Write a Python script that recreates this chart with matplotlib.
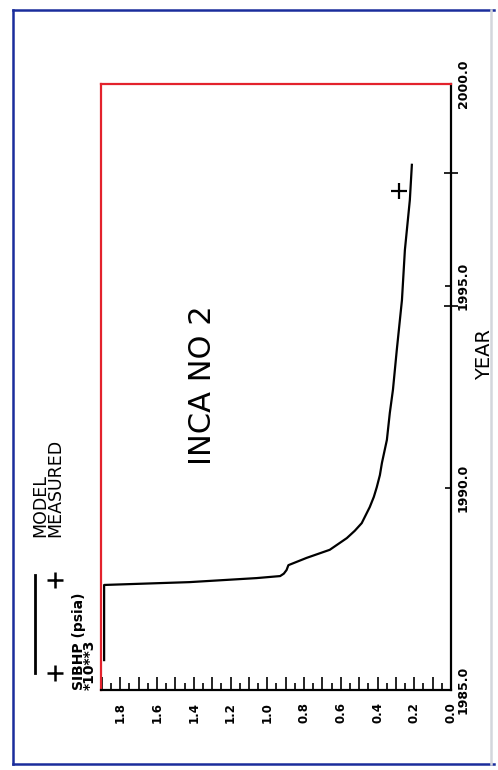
import matplotlib

matplotlib.use("Agg")
import matplotlib.pyplot as plt
from matplotlib.lines import Line2D

plt.rcParams["font.family"] = ["DejaVu Sans"]

# モデル曲線 (年, SIBHP x10^3 psia) 図から読み取り
model_year = [1985.74, 1987.60, 1987.67, 1987.77, 1987.82, 1987.88, 1987.97, 1988.09,
              1988.27, 1988.47, 1988.76, 1988.94, 1989.13, 1989.53, 1989.78, 1990.02,
              1990.32, 1990.62, 1991.19, 1991.86, 1992.43, 1993.42, 1994.65, 1995.89,
              1997.13, 1998.00]
model_sibhp = [1.888, 1.888, 1.424, 1.058, 0.930, 0.910, 0.895, 0.885,
               0.786, 0.660, 0.567, 0.524, 0.486, 0.442, 0.420, 0.404,
               0.387, 0.376, 0.349, 0.333, 0.316, 0.295, 0.267, 0.251,
               0.224, 0.213]

# 実測値
measured_year = [1997.35]
measured_sibhp = [0.284]

# 軸の目盛り
pressure_ticks = [0.0, 0.2, 0.4, 0.6, 0.8, 1.0, 1.2, 1.4, 1.6, 1.8]
pressure_labels = ["0.0", "0.2", "0.4", "0.6", "0.8", "1.0", "1.2", "1.4", "1.6", "1.8"]
pressure_odd_ticks = [0.1, 0.3, 0.5, 0.7, 0.9, 1.1, 1.3, 1.5, 1.7, 1.9]
year_ticks = [1985.0, 1990.0, 1995.0, 2000.0]
year_labels = ["1985.0", "1990.0", "1995.0", "2000.0"]
year_marks = [1994.5, 1997.8]

W, H = 498, 770


def px(x, y):
    """ピクセル座標 -> figure 座標"""
    return x / W, 1 - y / H


fig = plt.figure(figsize=(W / 100, H / 100), dpi=100)
fig.patch.set_facecolor("white")

# 外枠 (青)
blue = "#1a2d9c"
for xs, ys, c in [
    ([13, 13], [10, 764], blue),
    ([13, 494], [10, 10], blue),
    ([13, 494], [764, 764], blue),
    ([491, 491], [10, 764], "#d4d6dc"),
]:
    x0, y0 = px(xs[0], ys[0])
    x1, y1 = px(xs[1], ys[1])
    fig.add_artist(Line2D([x0, x1], [y0, y1], color=c, lw=1.8, transform=fig.transFigure))

# 軸 (横: SIBHP 反転, 縦: 年)
left, top = px(101, 84)
right, bottom = px(451, 690)
ax = fig.add_axes([left, bottom, right - left, top - bottom])
ax.set_xlim(1.905, 0.0)
ax.set_ylim(1985.0, 2000.0)

ax.plot(model_sibhp, model_year, color="black", lw=1.6, solid_joinstyle="round")
ax.plot(measured_sibhp, measured_year, linestyle="none", marker="+", color="black",
        markersize=11, markeredgewidth=1.6)

red = "#e3222c"
ax.spines["top"].set_color(red)
ax.spines["left"].set_color(red)
for s in ax.spines.values():
    s.set_linewidth(1.6)

# 横軸の目盛り
major = sorted(pressure_ticks + pressure_odd_ticks)
lab = dict(zip(pressure_ticks, pressure_labels))
ax.set_xticks(major, [lab.get(t, "") for t in major])
ax.set_xticks([t + 0.05 for t in major if t + 0.05 < 1.9], minor=True)
ax.tick_params(axis="x", which="major", direction="in", length=9.4, width=1.2, pad=8.5,
               labelsize=8.5, labelrotation=90)
ax.tick_params(axis="x", which="minor", direction="in", length=5, width=1.2)
for t in ax.get_xticklabels():
    t.set_fontweight("bold")

# 縦軸の目盛り (右側)
ax.yaxis.tick_right()
ax.set_yticks(year_ticks, year_labels)
ax.set_yticks(year_marks, minor=True)
ax.tick_params(axis="y", which="major", direction="in", length=4.3, width=1.2, pad=4.3,
               labelsize=9, labelrotation=90)
ax.tick_params(axis="y", which="minor", direction="inout", length=10, width=1.2)
for t in ax.get_yticklabels():
    t.set_fontweight("bold")
    t.set_verticalalignment("center")

# テキスト
fig.text(*px(202, 385), "INCA NO 2", rotation=90, ha="center", va="center", fontsize=22)
fig.text(*px(485, 355), "YEAR", rotation=90, ha="center", va="center", fontsize=14)
fig.text(*px(48, 537), "MODEL\nMEASURED", rotation=90, ha="center", va="bottom",
         fontsize=12.5, linespacing=0.78, multialignment="left")
fig.text(*px(84, 690), "SIBHP (psia)\n*10**3", rotation=90, ha="center", va="bottom",
         fontsize=10, fontweight="bold", linespacing=0.72, multialignment="left")

# 凡例記号
x0, y0 = px(35, 575)
x1, y1 = px(35, 673)
fig.add_artist(Line2D([x0, x1], [y0, y1], color="black", lw=2, transform=fig.transFigure))
mx0, my0 = px(55, 580)
mx1, my1 = px(55, 673)
fig.add_artist(Line2D([mx0, mx1], [my0, my1], linestyle="none", marker="+", color="black",
                      markersize=11, markeredgewidth=1.8, transform=fig.transFigure))

fig.savefig("out.png", dpi=100)
